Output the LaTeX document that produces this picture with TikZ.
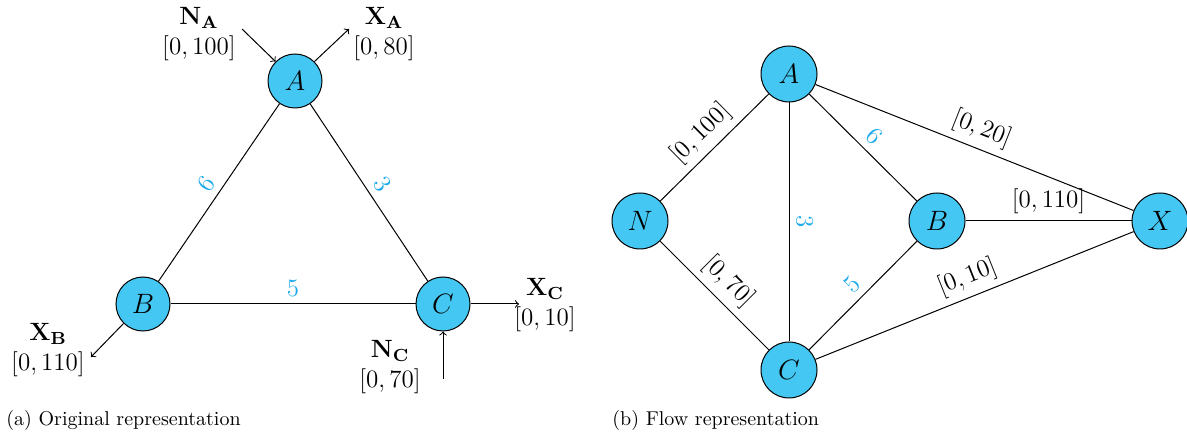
\RequirePackage{fix-cm}
\documentclass[tikz,border=0pt]{standalone}
\usepackage{amsmath}
\definecolor{nodefill}{RGB}{68,200,243}
\definecolor{wcol}{RGB}{30,170,235}
\begin{document}
\begin{tikzpicture}[x=0.5pt,y=-0.5pt,
  vtx/.style={circle,draw=black,fill=nodefill,line width=0.5pt,minimum size=27pt,inner sep=0pt,font=\fontsize{14}{16}\selectfont},
  vtxb/.style={vtx,minimum size=28pt},
  lbl/.style={font=\fontsize{12.5}{15}\selectfont,align=center},
  wt/.style={font=\fontsize{12.5}{15}\selectfont,text=wcol,sloped,above},
  fl/.style={font=\fontsize{12.5}{15}\selectfont,sloped,above},
  captext/.style={font=\fontsize{10}{12}\selectfont,anchor=west,inner sep=0pt},
  edge/.style={line width=0.5pt},
  arr/.style={->,line width=0.5pt}]
\useasboundingbox (0,0) rectangle (1187,437);

% ---------- (a) original representation ----------
\node[vtx] (A) at (295,81) {$A$};
\node[vtx] (B) at (143,304) {$B$};
\node[vtx] (C) at (443,304) {$C$};

\draw[edge] (B) -- node[wt] {6} (A);
\draw[edge] (A) -- node[wt] {3} (C);
\draw[edge] (B) -- node[wt,sloped=false] {5} (C);

\node[lbl] (NA) at (199,34) {$\mathbf{N_A}$\\$[0,100]$};
\node[lbl] (XA) at (384,34) {$\mathbf{X_A}$\\$[0,80]$};
\node[lbl] (XB) at (48,350) {$\mathbf{X_B}$\\$[0,110]$};
\node[lbl] (XC) at (545,305) {$\mathbf{X_C}$\\$[0,10]$};
\node[lbl] (NC) at (390,367) {$\mathbf{N_C}$\\$[0,70]$};

\coordinate (naS) at (242,29);
\coordinate (xaE) at (349,29);
\coordinate (xbE) at (91,357);
\coordinate (xcE) at (519,304);
\coordinate (ncS) at (443,379);
\draw[arr] (naS) -- (A.135);
\draw[arr] (A.45) -- (xaE);
\draw[arr] (B.225) -- (xbE);
\draw[arr] (C.east) -- (xcE);
\draw[arr] (ncS) -- (C.south);

\node[captext] (capa) at (6,421) {(a) Original representation};

% ---------- (b) flow representation ----------
\node[vtxb] (A2) at (789,74) {$A$};
\node[vtxb] (N2) at (640,221) {$N$};
\node[vtxb] (B2) at (937,221) {$B$};
\node[vtxb] (X2) at (1160,221) {$X$};
\node[vtxb] (C2) at (789,370) {$C$};

\draw[edge] (N2) -- node[fl] {$[0,100]$} (A2);
\draw[edge] (A2) -- node[fl] {$[0,20]$} (X2);
\draw[edge] (A2) -- node[wt] {6} (B2);
\draw[edge] (A2) -- node[wt] {3} (C2);
\draw[edge] (N2) -- node[fl] {$[0,70]$} (C2);
\draw[edge] (B2) -- node[fl] {$[0,110]$} (X2);
\draw[edge] (C2) -- node[wt] {5} (B2);
\draw[edge] (C2) -- node[fl] {$[0,10]$} (X2);

\node[captext] (capb) at (612,421) {(b) Flow representation};
\end{tikzpicture}
\end{document}
